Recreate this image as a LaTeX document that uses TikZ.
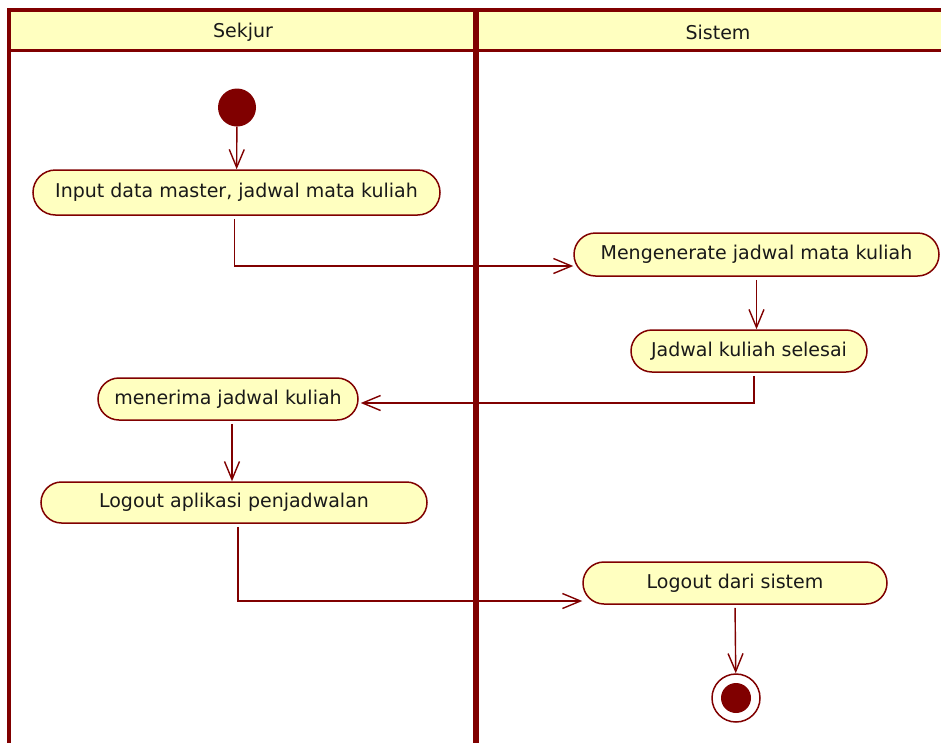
\documentclass[tikz,border=0pt]{standalone}
\usepackage{fontspec}
\setmainfont{DejaVu Sans}
\usetikzlibrary{shapes.misc,arrows.meta}
\definecolor{umlred}{HTML}{800000}
\definecolor{umlfill}{HTML}{FFFFC0}
\tikzset{
  act/.style={rounded rectangle, draw=umlred, fill=umlfill, line width=1.5pt,
    font=\fontsize{19}{22}\selectfont, inner sep=0pt, text=black!90},
  flow/.style={draw=umlred, line width=1.4pt,
    -{Straight Barb[length=18pt,width=15pt,line width=1.4pt]}},
  lane/.style={draw=umlred, line width=4pt},
  hdr/.style={font=\fontsize{19}{22}\selectfont, text=black!90},
  startnode/.style={circle, fill=umlred, minimum size=38pt, inner sep=0pt},
}
\begin{document}
\begin{tikzpicture}[x=1pt,y=-1pt]
\useasboundingbox (0,0) rectangle (941,742);
\clip (0,0) rectangle (941,742);
% swimlanes
\fill[umlfill] (9,10) rectangle (970,50);
\draw[lane] (9,760) -- (9,10) -- (970,10);
\draw[draw=umlred, line width=3pt] (9,50) -- (970,50);
\draw[draw=umlred, line width=5.5pt] (476,10) -- (476,760);
\node[hdr] (h1) at (243,32) {Sekjur};
\node[hdr] (h2) at (718,32) {Sistem};
% nodes
\node[startnode] (start) at (237,107.5) {};
\node[act, minimum width=407pt, minimum height=45pt] (a1) at (236.5,192.5) {Input data master, jadwal mata kuliah};
\node[act, minimum width=365pt, minimum height=43pt] (a2) at (756.5,254.5) {Mengenerate jadwal mata kuliah};
\node[act, minimum width=236pt, minimum height=42pt] (a3) at (749,351) {Jadwal kuliah selesai};
\node[act, minimum width=260pt, minimum height=42pt] (a4) at (228,399) {menerima jadwal kuliah};
\node[act, minimum width=386pt, minimum height=41pt] (a5) at (234,502.5) {Logout aplikasi penjadwalan};
\node[act, minimum width=304pt, minimum height=42pt] (a6) at (735,583) {Logout dari sistem};
\node[circle, draw=umlred, fill=white, line width=1.5pt, minimum size=48pt, inner sep=0pt] (end) at (736,698) {};
\node[circle, fill=umlred, minimum size=30pt, inner sep=0pt] (endin) at (736,698) {};
% connectors
\draw[flow] (start) -- (a1);
\draw[flow, shorten <=3pt] ([xshift=-2pt]a1.south) |- ([yshift=-11.5pt]a2.west);
\draw[flow, shorten <=3pt] (a2.south) -- (a2.south |- a3.north);
\draw[flow, shorten <=3pt] ([xshift=5pt]a3.south) |- ([yshift=-4pt,xshift=2pt]a4.east);
\draw[flow, shorten <=3pt] ([xshift=4pt]a4.south) -- ([xshift=4pt]a4.south |- a5.north);
\draw[flow, shorten <=3pt] ([xshift=4pt]a5.south) |- ([yshift=-18pt]a6.west);
\draw[flow, shorten <=3pt] (a6.south) -- (end);
\end{tikzpicture}
\end{document}
